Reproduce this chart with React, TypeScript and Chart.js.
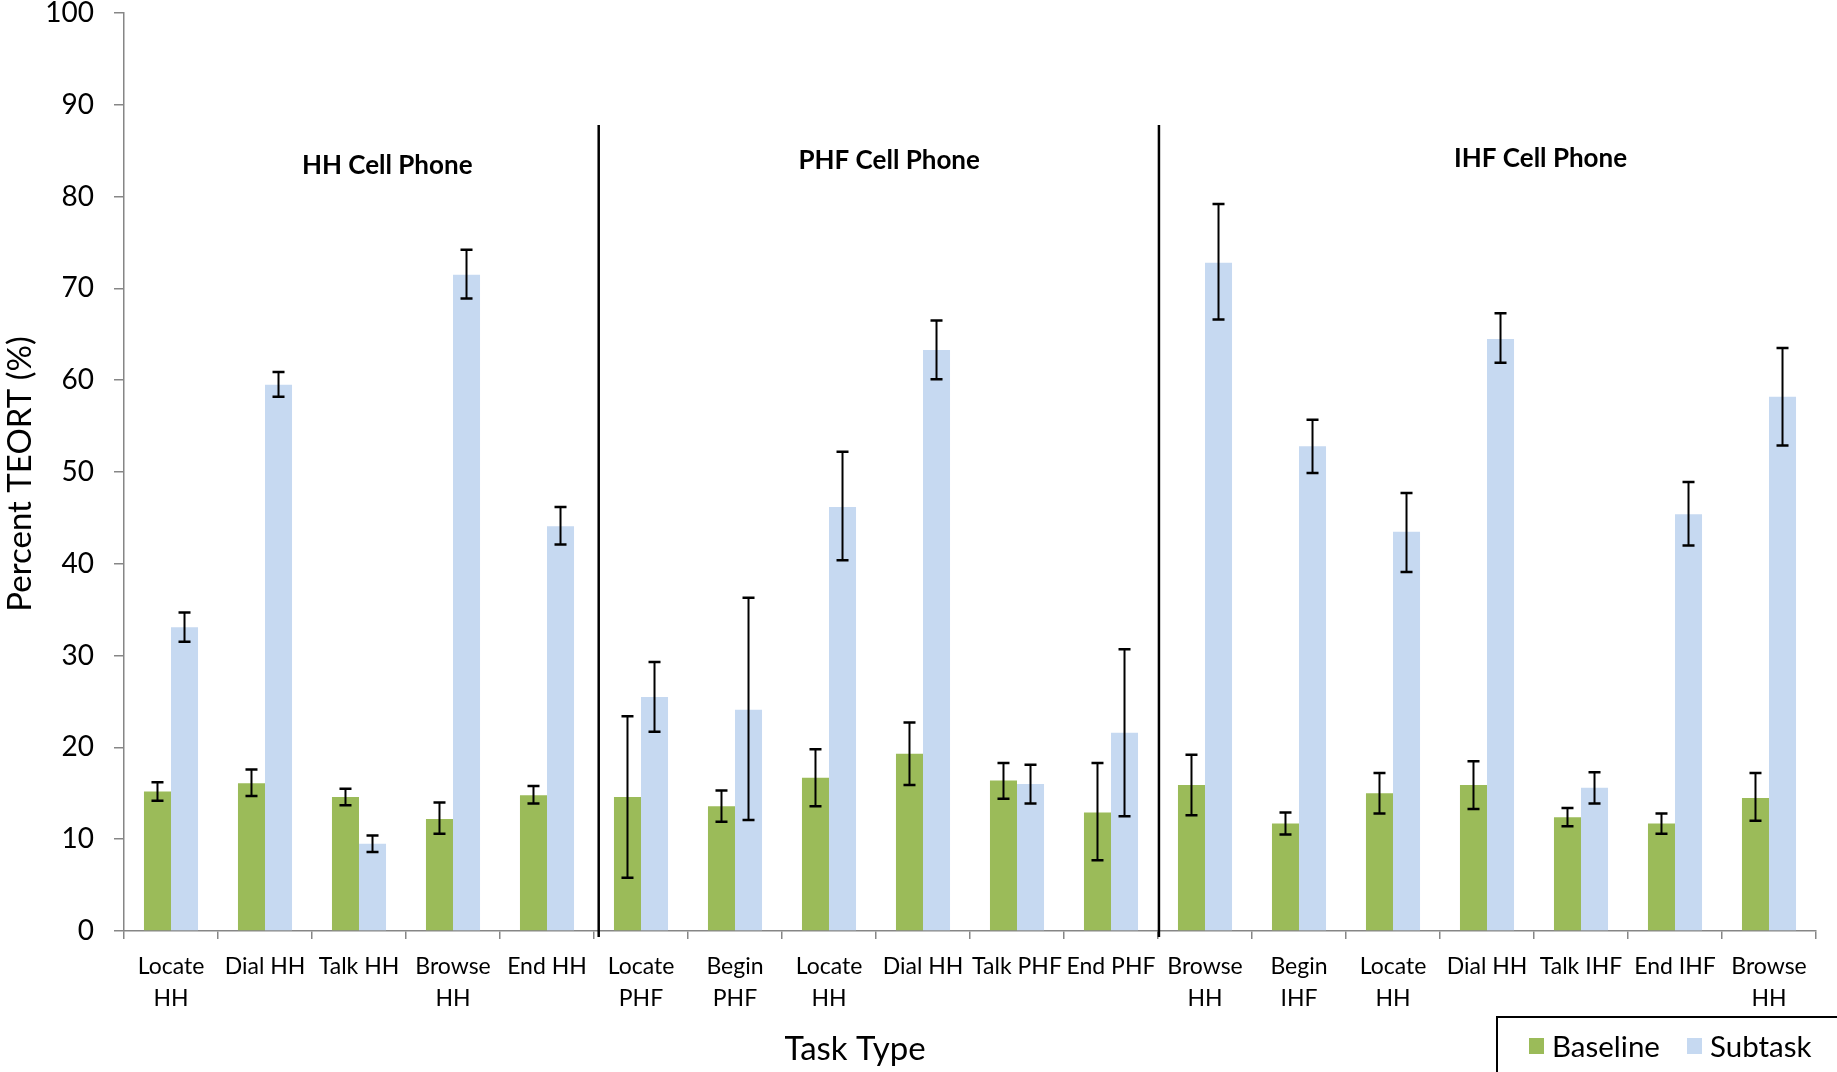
import React, { useEffect, useRef } from 'react';
import { Chart, registerables } from 'chart.js';

Chart.register(...registerables);

const categories: string[][] = [
  ['Locate', 'HH'], ['Dial HH'], ['Talk HH'], ['Browse', 'HH'], ['End HH'],
  ['Locate', 'PHF'], ['Begin', 'PHF'], ['Locate', 'HH'], ['Dial HH'], ['Talk PHF'], ['End PHF'],
  ['Browse', 'HH'], ['Begin', 'IHF'], ['Locate', 'HH'], ['Dial HH'], ['Talk IHF'], ['End IHF'], ['Browse', 'HH'],
];

const baseline = [15.2, 16.1, 14.6, 12.2, 14.8, 14.6, 13.6, 16.7, 19.3, 16.4, 12.9, 15.9, 11.7, 15.0, 15.9, 12.4, 11.7, 14.5];
const baselineLo = [14.2, 14.7, 13.7, 10.6, 13.9, 5.8, 11.9, 13.6, 15.9, 14.4, 7.7, 12.6, 10.5, 12.8, 13.3, 11.4, 10.6, 12.0];
const baselineHi = [16.2, 17.6, 15.5, 14.0, 15.8, 23.4, 15.3, 19.8, 22.7, 18.3, 18.3, 19.2, 12.9, 17.2, 18.5, 13.4, 12.8, 17.2];

const subtask = [33.1, 59.5, 9.5, 71.5, 44.1, 25.5, 24.1, 46.2, 63.3, 16.0, 21.6, 72.8, 52.8, 43.5, 64.5, 15.6, 45.4, 58.2];
const subtaskLo = [31.5, 58.2, 8.6, 68.9, 42.1, 21.7, 12.1, 40.4, 60.1, 13.9, 12.5, 66.6, 49.9, 39.1, 61.9, 13.9, 42.0, 52.9];
const subtaskHi = [34.7, 60.9, 10.4, 74.2, 46.2, 29.3, 36.3, 52.2, 66.5, 18.1, 30.7, 79.2, 55.7, 47.7, 67.3, 17.3, 48.9, 63.5];

const seriesNames = ['Baseline', 'Subtask'];
const seriesColors = ['#9BBB59', '#C6D9F1'];

const sectionTitles = ['HH Cell Phone', 'PHF Cell Phone', 'IHF Cell Phone'];
const sectionTitleX = [2.3, 7.64, 14.57];
const sectionTitleY = [83.4, 83.9, 84.1];
const dividerX = [4.55, 10.51];

const FONT = 'Lato';

const extrasPlugin = {
  id: 'extras',
  afterDatasetsDraw(chart: any) {
    const ctx = chart.ctx;
    const xs = chart.scales.x;
    const ys = chart.scales.y;
    const area = chart.chartArea;
    const los = [baselineLo, subtaskLo];
    const his = [baselineHi, subtaskHi];
    ctx.save();
    ctx.strokeStyle = '#000';
    for (let d = 0; d < 2; d++) {
      const meta = chart.getDatasetMeta(d);
      meta.data.forEach((bar: any, j: number) => {
        const x = bar.x;
        const y1 = ys.getPixelForValue(los[d][j]);
        const y2 = ys.getPixelForValue(his[d][j]);
        ctx.lineWidth = 2;
        ctx.beginPath();
        ctx.moveTo(x, y1);
        ctx.lineTo(x, y2);
        ctx.stroke();
        ctx.lineWidth = 2.5;
        ctx.beginPath();
        ctx.moveTo(x - 6, y1);
        ctx.lineTo(x + 6, y1);
        ctx.moveTo(x - 6, y2);
        ctx.lineTo(x + 6, y2);
        ctx.stroke();
      });
    }
    ctx.lineWidth = 2.5;
    dividerX.forEach((v) => {
      const x = xs.getPixelForValue(v);
      ctx.beginPath();
      ctx.moveTo(x, ys.getPixelForValue(87.8));
      ctx.lineTo(x, area.bottom + 6);
      ctx.stroke();
    });
    ctx.fillStyle = '#000';
    ctx.font = `bold 26px ${FONT}`;
    ctx.textAlign = 'center';
    ctx.textBaseline = 'middle';
    sectionTitles.forEach((t, i) => {
      ctx.fillText(t, xs.getPixelForValue(sectionTitleX[i]), ys.getPixelForValue(sectionTitleY[i]));
    });
    ctx.font = `33px ${FONT}`;
    ctx.fillText('Task Type', 855, 1049);
    ctx.save();
    ctx.translate(20, (area.top + area.bottom) / 2 + 2);
    ctx.rotate(-Math.PI / 2);
    ctx.fillText('Percent TEORT (%)', 0, 0);
    ctx.restore();
    ctx.lineWidth = 2;
    ctx.strokeStyle = '#000';
    ctx.fillStyle = '#fff';
    ctx.fillRect(1497, 1017, 400, 100);
    ctx.strokeRect(1497, 1017, 400, 100);
    const lx = [1529, 1687];
    ctx.font = `29.5px ${FONT}`;
    ctx.textAlign = 'left';
    seriesNames.forEach((n, i) => {
      ctx.fillStyle = seriesColors[i];
      ctx.fillRect(lx[i], 1038, 15, 16);
      ctx.fillStyle = '#000';
      ctx.fillText(n, lx[i] + 23, 1047);
    });
    ctx.restore();
  },
};

export default function App() {
  const ref = useRef<HTMLCanvasElement>(null);
  useEffect(() => {
    if (!ref.current) return;
    const chart = new Chart(ref.current, {
      type: 'bar',
      data: {
        labels: categories,
        datasets: [
          { label: seriesNames[0], data: baseline, backgroundColor: seriesColors[0], categoryPercentage: 0.575, barPercentage: 1.0 },
          { label: seriesNames[1], data: subtask, backgroundColor: seriesColors[1], categoryPercentage: 0.575, barPercentage: 1.0 },
        ],
      },
      options: {
        animation: false,
        responsive: false,
        devicePixelRatio: 1,
        layout: { padding: { left: 0, top: 13, right: 21, bottom: 0 } },
        plugins: { legend: { display: false }, tooltip: { enabled: false } },
        scales: {
          x: {
            grid: { display: true, drawOnChartArea: false, drawTicks: true, tickLength: 8, color: '#868686', lineWidth: 1.5, offset: true },
            border: { display: true, color: '#868686', width: 1.5 },
            ticks: { color: '#000', font: { family: FONT, size: 23, lineHeight: 1.39 }, padding: 12, maxRotation: 0, autoSkip: false },
            afterFit: (s: any) => { s.height = 141; s.paddingLeft = 0; s.paddingRight = 0; },
          },
          y: {
            min: 0,
            max: 100,
            ticks: { stepSize: 10, color: '#000', font: { family: FONT, size: 28, lineHeight: 1.0 }, padding: 20 },
            grid: { display: true, drawOnChartArea: false, drawTicks: true, tickLength: 10, color: '#868686', lineWidth: 1.5 },
            border: { display: true, color: '#868686', width: 1.5 },
            afterFit: (s: any) => { s.width = 124; s.paddingTop = 0; s.paddingBottom = 0; },
          },
        },
      },
      plugins: [extrasPlugin],
    });
    return () => chart.destroy();
  }, []);
  return (
    <div style={{ position: 'fixed', left: 0, top: 0, width: 1837, height: 1072, overflow: 'hidden', background: '#fff' }}>
      <canvas ref={ref} width={1837} height={1072} style={{ width: 1837, height: 1072, display: 'block' }} />
    </div>
  );
}
